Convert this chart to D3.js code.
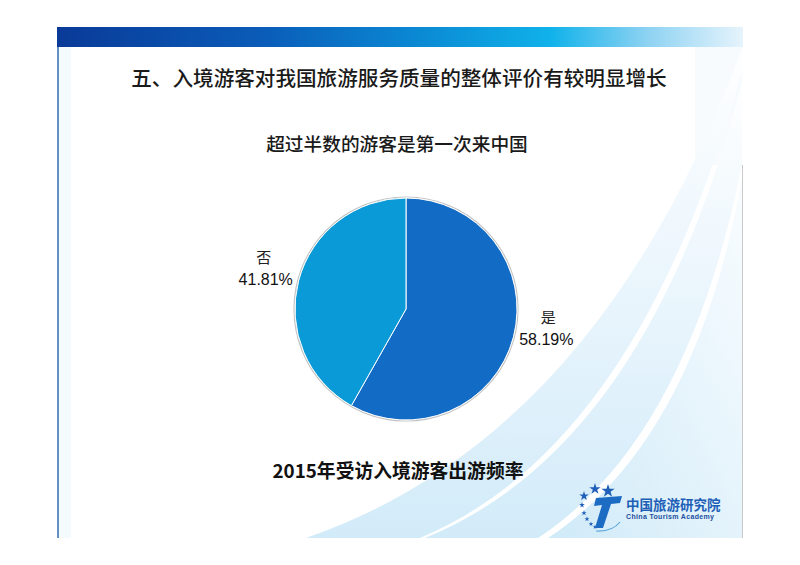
<!DOCTYPE html>
<html>
<head>
<meta charset="utf-8">
<script src="https://cdn.jsdelivr.net/npm/d3@7"></script>
<style>
  html, body { margin: 0; padding: 0; background: #fff; }
  svg { display: block; }
</style>
</head>
<body>
<div id="chart"></div>
<script>
// data
var categories = ['是', '否'];
var shares = [58.19, 41.81];
var title = '五、入境游客对我国旅游服务质量的整体评价有较明显增长';
var subtitle = '超过半数的游客是第一次来中国';
var caption = '2015年受访入境游客出游频率';

var width = 800, height = 565;
var cjk = "'Noto Sans CJK SC', 'Noto Sans', sans-serif";
var latin = "'Liberation Sans', Arial, sans-serif";

var svg = d3.select('#chart').append('svg')
	.attr('width', width)
	.attr('height', height);

var defs = svg.append('defs');

var barGrad = defs.append('linearGradient').attr('id', 'bar-grad');
[[0, '#0a3a98'], [0.3, '#0a5cb8'], [0.55, '#0b8ed6'], [0.72, '#10b2ea'], [0.86, '#8dd2f2'], [1, '#e6f4fc']]
	.forEach(function(s) { barGrad.append('stop').attr('offset', s[0]).attr('stop-color', s[1]); });

var swooshGrad = defs.append('linearGradient').attr('id', 'swoosh-grad')
	.attr('x1', 0).attr('y1', 1).attr('x2', 1).attr('y2', 0);
swooshGrad.append('stop').attr('offset', 0).attr('stop-color', '#cfeaf8');
swooshGrad.append('stop').attr('offset', 1).attr('stop-color', '#fafdff');

var bandGrad = defs.append('linearGradient').attr('id', 'band-grad')
	.attr('x1', 0).attr('y1', 1).attr('x2', 0).attr('y2', 0);
bandGrad.append('stop').attr('offset', 0).attr('stop-color', '#d2ebf9');
bandGrad.append('stop').attr('offset', 0.6).attr('stop-color', '#eef7fd');
bandGrad.append('stop').attr('offset', 1).attr('stop-color', '#ffffff');

defs.append('clipPath').attr('id', 'slide-clip')
	.append('rect').attr('x', 58).attr('y', 47).attr('width', 684).attr('height', 491);

// slide background swooshes
var bg = svg.append('g').attr('clip-path', 'url(#slide-clip)');
bg.append('rect')
	.attr('x', 695).attr('y', 47).attr('width', 50).attr('height', 118)
	.attr('fill', '#f7fbfe');
bg.append('path')
	.attr('d', 'M300,540 Q600,440 745,40 L745,60 Q640,450 415,540 Z')
	.attr('fill', 'url(#band-grad)');
bg.append('path')
	.attr('d', 'M420,540 Q650,450 745,70 L745,150 Q690,440 535,540 Z')
	.attr('fill', 'url(#band-grad)');
bg.append('path')
	.attr('d', 'M545,540 Q700,440 745,160 L745,540 Z')
	.attr('fill', 'url(#swoosh-grad)');
bg.append('rect')
	.attr('x', 59).attr('y', 47).attr('width', 12).attr('height', 491)
	.attr('fill', '#f5fafd');

// header bar and borders
svg.append('rect')
	.attr('x', 57).attr('y', 27).attr('width', 686).attr('height', 20)
	.attr('fill', 'url(#bar-grad)');
svg.append('line')
	.attr('x1', 58).attr('x2', 58).attr('y1', 47).attr('y2', 538)
	.attr('stroke', '#2f6cb2').attr('stroke-width', 1.5);
svg.append('line')
	.attr('x1', 742.5).attr('x2', 742.5).attr('y1', 165).attr('y2', 538)
	.attr('stroke', '#c9c9c9').attr('stroke-width', 1);

// texts
svg.append('text')
	.attr('x', 399).attr('y', 86)
	.attr('text-anchor', 'middle')
	.style('font-family', cjk).style('font-size', '20.6px')
	.style('font-weight', 500)
	.attr('fill', '#1a1a1a')
	.text(title);

svg.append('text')
	.attr('x', 397).attr('y', 151)
	.attr('text-anchor', 'middle')
	.style('font-family', cjk).style('font-size', '18.7px')
	.style('font-weight', 500)
	.attr('fill', '#1a1a1a')
	.text(subtitle);

svg.append('text')
	.attr('x', 398).attr('y', 478)
	.attr('text-anchor', 'middle')
	.style('font-family', cjk).style('font-size', '18.8px')
	.style('font-weight', 700)
	.attr('fill', '#111')
	.text(caption);

// pie
var cx = 406, cy = 309, radius = 111;
var color = d3.scaleOrdinal().domain(categories).range(['#126bc5', '#0a9ad7']);

var pie = d3.pie().sort(null).value(function(d) { return d.value; });
var pieData = pie(categories.map(function(c, i) { return {name: c, value: shares[i]}; }));

var arc = d3.arc().innerRadius(0).outerRadius(radius);
var labelArc = d3.arc().innerRadius(radius + 6).outerRadius(radius + 6);

var pieG = svg.append('g').attr('transform', 'translate(' + cx + ',' + cy + ')');

pieG.append('circle')
	.attr('r', radius + 1)
	.attr('fill', 'none')
	.attr('stroke', '#c4c4c4')
	.attr('stroke-width', 1.2);

pieG.selectAll('path.slice')
	.data(pieData)
	.enter()
	.append('path')
	.attr('class', 'slice')
	.attr('d', arc)
	.attr('fill', function(d) { return color(d.data.name); })
	.attr('stroke', '#fff')
	.attr('stroke-width', 1);

var rightSide = function(d) { return (d.startAngle + d.endAngle) / 2 < Math.PI; };

var labels = pieG.selectAll('g.label')
	.data(pieData)
	.enter()
	.append('g')
	.attr('class', 'label')
	.attr('transform', function(d) {
		var p = labelArc.centroid(d);
		return 'translate(' + p[0] + ',' + (p[1] - 11) + ')';
	})
	.attr('text-anchor', function(d) { return rightSide(d) ? 'start' : 'end'; });

labels.append('text')
	.attr('x', function(d) { return rightSide(d) ? 29 : -29; })
	.attr('text-anchor', 'middle')
	.attr('y', -5)
	.style('font-family', cjk).style('font-size', '15px')
	.attr('fill', '#222')
	.text(function(d) { return d.data.name; });

labels.append('text')
	.attr('y', 17)
	.style('font-family', latin).style('font-size', '16px')
	.attr('fill', '#111')
	.text(function(d) { return d3.format('.2f')(d.data.value) + '%'; });

// logo
var logo = svg.append('g');
var starSym = d3.symbol().type(d3.symbolStar);
[[584, 496, 28], [595, 489, 40], [608, 491, 55], [582, 505, 10], [584, 513, 9], [587, 519, 8], [591, 524, 7], [595, 527, 6]]
	.forEach(function(s) {
		logo.append('path')
			.attr('d', starSym.size(s[2])())
			.attr('transform', 'translate(' + s[0] + ',' + s[1] + ')')
			.attr('fill', '#1f5fb8');
	});
logo.append('path')
	.attr('d', 'M596,498 L622,496 L620,503 L611,504 L603,528 L595,528 L602,505 L594,506 Z')
	.attr('fill', '#1c6cc4');
logo.append('path')
	.attr('d', 'M596,531 Q612,532 620,522')
	.attr('fill', 'none').attr('stroke', '#5aa8e0').attr('stroke-width', 1.2);
logo.append('text')
	.attr('x', 626).attr('y', 510)
	.style('font-family', cjk).style('font-size', '13.5px').style('font-weight', 700)
	.attr('fill', '#1d5fb6')
	.text('中国旅游研究院');
logo.append('text')
	.attr('x', 626).attr('y', 519)
	.attr('textLength', 88)
	.style('font-family', latin).style('font-size', '7px').style('font-weight', 700)
	.attr('fill', '#1d4f9e')
	.text('China Tourism Academy');
</script>
</body>
</html>
